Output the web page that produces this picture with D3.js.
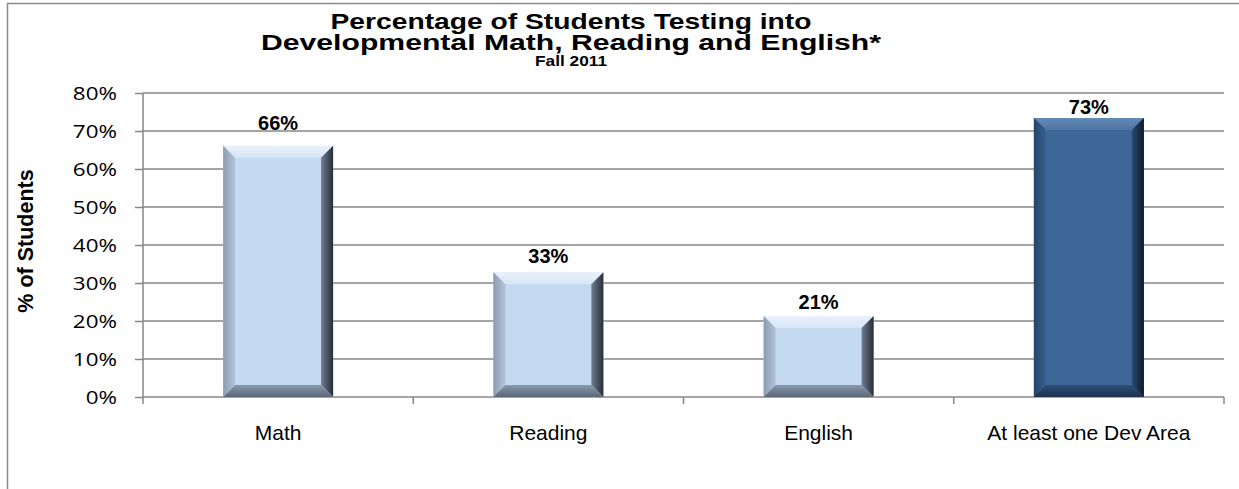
<!DOCTYPE html>
<html>
<head>
<meta charset="utf-8">
<script src="https://cdn.jsdelivr.net/npm/d3@7"></script>
<style>
  body { margin: 0; background: #fff; }
  svg { display: block; }
  .tick-y text { font-family: "Open Sans", sans-serif; font-size: 19px; fill: #000; }
  .tick-x text { font-family: "Liberation Sans", Arial, sans-serif; font-size: 21px; fill: #000; }
</style>
</head>
<body>
<div id="chart"></div>
<script>
// chart data
const categories = ['Math', 'Reading', 'English', 'At least one Dev Area'];
const percentValues = [66.1, 32.8, 21.3, 73.4];
const yTicks = [0, 10, 20, 30, 40, 50, 60, 70, 80];
const titleLines = ['Percentage of Students Testing into', 'Developmental Math, Reading and English*'];
const subTitle = 'Fall 2011';
const yAxisTitle = '% of Students';

const config = {
  width: 1239,
  height: 489,
  margin: {top: 93, right: 15, bottom: 92, left: 143}
};

const innerWidth = config.width - config.margin.left - config.margin.right;
const innerHeight = config.height - config.margin.top - config.margin.bottom;
const font = '"Liberation Sans", Arial, sans-serif';

const svg = d3.select('#chart').append('svg')
  .attr('width', config.width)
  .attr('height', config.height);

const defs = svg.append('defs');

// gradients for the bevelled bars, one set per colour
function addGrad(id, x2, y2, stops) {
  const g = defs.append('linearGradient')
    .attr('id', id)
    .attr('x1', 0).attr('y1', 0).attr('x2', x2).attr('y2', y2);
  stops.forEach(s => g.append('stop').attr('offset', s[0]).attr('stop-color', s[1]));
}
const palettes = {
  light: {face: '#c5d9f1', top: ['#e9f1fb', '#d7e5f6'], left: ['#8c9cb0', '#b3c4da'], right: ['#6f7e92', '#262d38'], bottom: ['#8a99ad', '#5b6676']},
  dark: {face: '#3e6797', top: ['#6389b5', '#4d74a2'], left: ['#25446a', '#37608f'], right: ['#2a4a70', '#0e1a2a'], bottom: ['#2d4e76', '#1b3150']}
};
Object.entries(palettes).forEach(([k, p]) => {
  addGrad(k + '-top', 0, 1, [[0, p.top[0]], [1, p.top[1]]]);
  addGrad(k + '-left', 1, 0, [[0, p.left[0]], [1, p.left[1]]]);
  addGrad(k + '-right', 1, 0, [[0, p.right[0]], [1, p.right[1]]]);
  addGrad(k + '-bottom', 0, 1, [[0, p.bottom[0]], [1, p.bottom[1]]]);
});

// outer chart border
svg.append('rect')
  .attr('x', 7.5).attr('y', 3.5)
  .attr('width', config.width + 10).attr('height', config.height + 10)
  .attr('fill', 'none')
  .attr('stroke', '#8a8a8a')
  .attr('stroke-width', 1.5);

const chart = svg.append('g')
  .attr('transform', `translate(${config.margin.left},${config.margin.top})`);

const xScale = d3.scaleBand()
  .domain(categories)
  .range([0, innerWidth])
  .padding(0);

const yScale = d3.scaleLinear()
  .domain([0, 80])
  .range([innerHeight, 0]);

// gridlines
chart.append('g')
  .selectAll('line')
  .data(yTicks.filter(d => d > 0))
  .join('line')
  .attr('x1', 0).attr('x2', innerWidth)
  .attr('y1', d => yScale(d)).attr('y2', d => yScale(d))
  .attr('stroke', '#878787')
  .attr('stroke-width', 1.5);

// y axis
const yAxis = d3.axisLeft(yScale)
  .tickValues(yTicks)
  .tickSize(8)
  .tickPadding(18)
  .tickFormat(d => d + '%');

chart.append('g')
  .attr('class', 'tick-y')
  .call(yAxis)
  .call(g => g.selectAll('line, path').attr('stroke', '#878787').attr('stroke-width', 1.5))
  .call(g => g.select('.domain').attr('d', `M0,${innerHeight}V0`))
  // the reference labels are drawn a little wider than the font
  .call(g => g.selectAll('text').attr('x', 0).attr('transform', 'translate(-26,0) scale(1.18,1)'));

// x axis, ticks sit on the category boundaries
const xAxisG = chart.append('g')
  .attr('class', 'tick-x')
  .attr('transform', `translate(0,${innerHeight})`);

xAxisG.append('line')
  .attr('x1', 0).attr('x2', innerWidth)
  .attr('stroke', '#878787').attr('stroke-width', 1.5);

xAxisG.selectAll('.bound')
  .data(d3.range(categories.length + 1))
  .join('line')
  .attr('class', 'bound')
  .attr('x1', i => i * xScale.step()).attr('x2', i => i * xScale.step())
  .attr('y1', 0).attr('y2', 7)
  .attr('stroke', '#878787').attr('stroke-width', 1.5);

xAxisG.selectAll('text')
  .data(categories)
  .join('text')
  .attr('x', d => xScale(d) + xScale.bandwidth() / 2)
  .attr('y', 43)
  .attr('text-anchor', 'middle')
  .text(d => d);

// bars with a bevel
const barW = xScale.bandwidth() * 0.407;
const bev = 12;
const data = categories.map((c, i) => ({cat: c, value: percentValues[i], tone: i === 3 ? 'dark' : 'light'}));

const bars = chart.selectAll('.bar')
  .data(data)
  .join('g')
  .attr('class', 'bar')
  .attr('transform', d => `translate(${xScale(d.cat) + (xScale.bandwidth() - barW) / 2},${yScale(d.value)})`);

bars.append('rect')
  .attr('width', barW)
  .attr('height', d => innerHeight - yScale(d.value))
  .attr('fill', d => palettes[d.tone].face);

bars.each(function(d) {
  const h = innerHeight - yScale(d.value);
  const g = d3.select(this);
  const w = barW;
  g.append('polygon')
    .attr('points', `0,0 ${w},0 ${w - bev},${bev} ${bev},${bev}`)
    .attr('fill', `url(#${d.tone}-top)`);
  g.append('polygon')
    .attr('points', `0,0 ${bev},${bev} ${bev},${h - bev} 0,${h}`)
    .attr('fill', `url(#${d.tone}-left)`);
  g.append('polygon')
    .attr('points', `${w},0 ${w},${h} ${w - bev},${h - bev} ${w - bev},${bev}`)
    .attr('fill', `url(#${d.tone}-right)`);
  g.append('polygon')
    .attr('points', `0,${h} ${bev},${h - bev} ${w - bev},${h - bev} ${w},${h}`)
    .attr('fill', `url(#${d.tone}-bottom)`);
});

// value labels above bars (pushed down under the plot top when needed)
chart.selectAll('.value-label')
  .data(data)
  .join('text')
  .attr('class', 'value-label')
  .attr('x', d => xScale(d.cat) + xScale.bandwidth() / 2)
  .attr('y', d => Math.max(yScale(d.value) - 3 - d.value * 0.2, 21))
  .attr('text-anchor', 'middle')
  .attr('font-family', font)
  .attr('font-weight', 'bold')
  .attr('font-size', 20)
  .text(d => Math.round(d.value) + '%');

// titles
const titleX = 571;
const titleWidths = [481, 620];
svg.selectAll('.title-line')
  .data(titleLines)
  .join('text')
  .attr('class', 'title-line')
  .attr('x', titleX)
  .attr('y', (d, i) => 29 + i * 21)
  .attr('text-anchor', 'middle')
  .attr('font-family', font)
  .attr('font-weight', 'bold')
  .attr('font-size', 22)
  .attr('textLength', (d, i) => titleWidths[i])
  .attr('lengthAdjust', 'spacingAndGlyphs')
  .text(d => d);

svg.append('text')
  .attr('x', titleX)
  .attr('y', 66)
  .attr('text-anchor', 'middle')
  .attr('font-family', font)
  .attr('font-weight', 'bold')
  .attr('font-size', 15)
  .attr('textLength', 72)
  .attr('lengthAdjust', 'spacingAndGlyphs')
  .text(subTitle);

svg.append('text')
  .attr('transform', 'translate(33,241) rotate(-90)')
  .attr('text-anchor', 'middle')
  .attr('font-family', font)
  .attr('font-weight', 'bold')
  .attr('font-size', 21.5)
  .text(yAxisTitle);
</script>
</body>
</html>
